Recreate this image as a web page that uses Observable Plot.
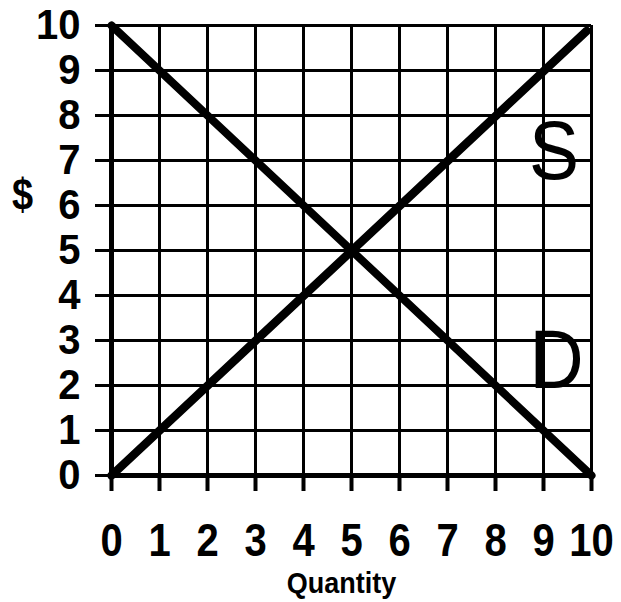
<!DOCTYPE html>
<html>
<head>
<meta charset="utf-8">
<script src="https://cdn.jsdelivr.net/npm/d3@7"></script>
<script src="https://cdn.jsdelivr.net/npm/@observablehq/plot@0.6"></script>
<style>
  html, body { margin: 0; padding: 0; background: white; }
</style>
</head>
<body>
<div id="chart"></div>
<script>
const xTicks = [0, 1, 2, 3, 4, 5, 6, 7, 8, 9, 10];
const yTicks = [0, 1, 2, 3, 4, 5, 6, 7, 8, 9, 10];

const supplyQuantity = [0, 9.9];
const supplyPrice = [0, 9.88];
const demandQuantity = [0, 10];
const demandPrice = [10, 0];

const curveLabels = ["S", "D"];
const curveLabelQ = [9.22, 9.27];
const curveLabelP = [7.2, 2.55];

const xLabel = "Quantity";
const yLabel = "$";

const supply = supplyQuantity.map((q, i) => ({q, p: supplyPrice[i]}));
const demand = demandQuantity.map((q, i) => ({q, p: demandPrice[i]}));
const annotations = curveLabels.map((t, i) => ({t, q: curveLabelQ[i], p: curveLabelP[i]}));

const chart = Plot.plot({
  width: 621,
  height: 602,
  marginLeft: 111,
  marginRight: 30,
  marginTop: 25,
  marginBottom: 127,
  x: {domain: [0, 10]},
  y: {domain: [0, 10]},
  style: {fontFamily: "'Liberation Sans', Arial, sans-serif", background: "white", color: "black"},
  marks: [
    Plot.ruleX(xTicks, {stroke: "black", strokeWidth: 3}),
    Plot.ruleY(yTicks, {stroke: "black", strokeWidth: 3}),
    Plot.ruleX([0], {stroke: "black", strokeWidth: 5}),
    Plot.ruleY([0], {stroke: "black", strokeWidth: 5}),
    Plot.axisX(xTicks, {tickSize: 16, tickPadding: 34, fontSize: 40, fontWeight: "bold", strokeWidth: 4, label: null, className: "xt"}),
    Plot.axisY(yTicks, {tickSize: 16, tickPadding: 15, fontSize: 40, fontWeight: "bold", strokeWidth: 3, label: null, className: "yt"}),
    Plot.line(supply, {x: "q", y: "p", stroke: "black", strokeWidth: 8.5}),
    Plot.line(demand, {x: "q", y: "p", stroke: "black", strokeWidth: 8}),
    Plot.text(annotations, {x: "q", y: "p", text: "t", fontSize: 75, fill: "black", className: "sd"}),
    Plot.text([xLabel], {frameAnchor: "bottom", dx: -10, dy: 108, fontSize: 27, fontWeight: "bold", fill: "black", lineAnchor: "middle", textAnchor: "middle", style: {letterSpacing: "-2px"}, className: "ql"}),
    Plot.text([yLabel], {frameAnchor: "left", dx: -89, dy: -55, fontSize: 38, fontWeight: "bold", fill: "black", lineAnchor: "middle", textAnchor: "middle", className: "dl"})
  ]
});
document.getElementById("chart").appendChild(chart);

// vertical stretch of the text, as in the reference
function stretch(selector, k) {
  chart.querySelectorAll(selector).forEach((el) => {
    const b = el.getBBox();
    const cx = b.x + b.width / 2, cy = b.y + b.height / 2;
    const t = el.getAttribute("transform") || "";
    el.setAttribute("transform", `${t} translate(${cx},${cy}) scale(1,${k}) translate(${-cx},${-cy})`);
  });
}
stretch(".xt text", 1.17);
stretch(".yt text", 1.06);
stretch(".sd text", 1.12);
stretch(".ql text", 1.1);
stretch(".dl text", 1.15);
</script>
</body>
</html>
